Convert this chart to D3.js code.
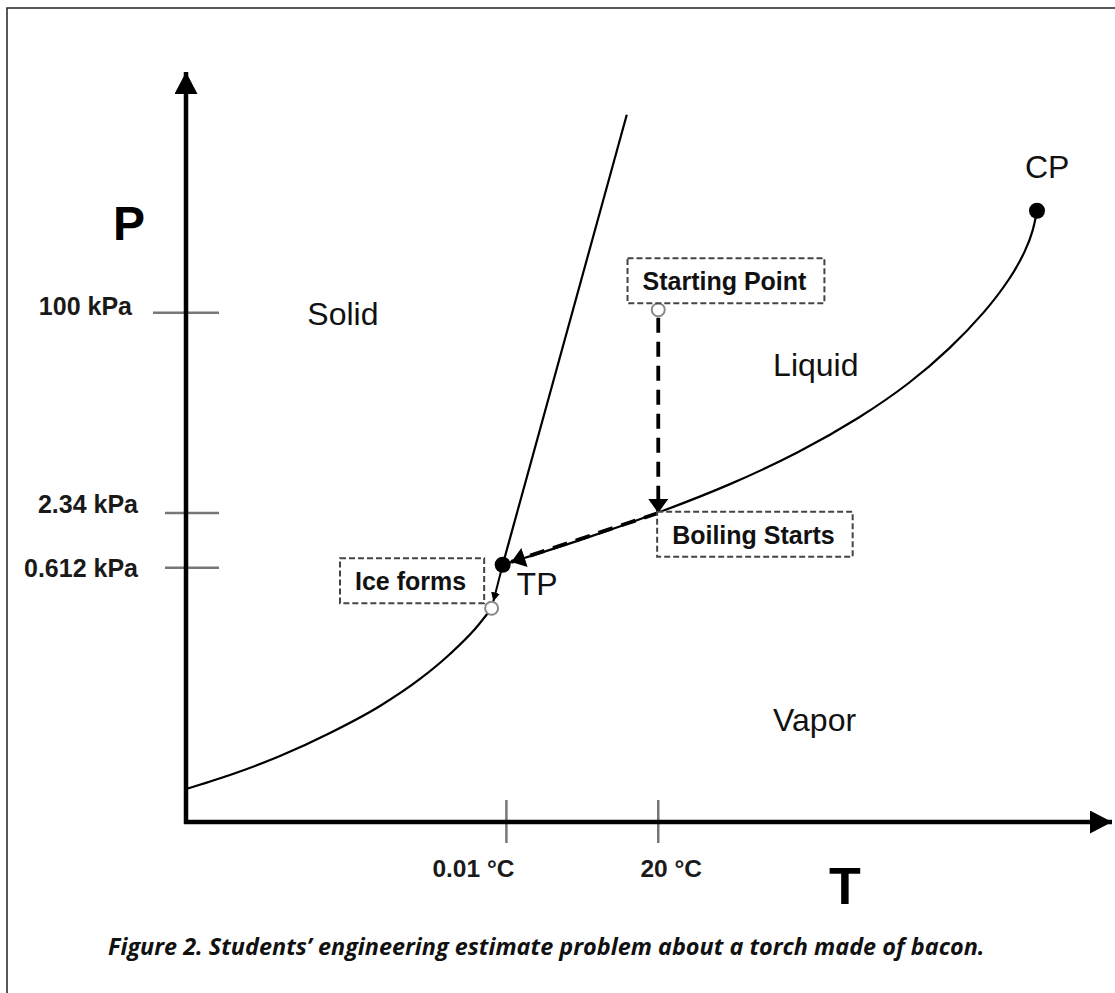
<!DOCTYPE html>
<meta charset="utf-8">
<head>
    <title>Phase diagram</title>
    <script src="https://cdn.jsdelivr.net/npm/d3@7"></script>
    <style>
        body { margin: 0; background: #fff; }
    </style>
</head>
<body>
    <div id="chart"></div>
    <script>
        // schematic units, 0..100 on both axes
        const sublimation = [[0, 4.4], [4.75, 6.27], [10.15, 8.8], [15.55, 11.87], [20.95, 15.47], [25.27, 19.07], [28.51, 22.4], [31.21, 25.73], [33.0, 28.5]];
        const vaporization = [[34.2, 34.3], [42.5, 37.5], [51.0, 41.2], [58.7, 44.9], [66.3, 49.3], [72.8, 53.9], [78.2, 58.5], [82.5, 63.1], [86.3, 68.0], [89.0, 72.4], [90.7, 76.2], [91.5, 78.9], [91.9, 81.5]];
        const fusion = [[34.2, 34.3], [47.6, 94.3]];

        const yTickValues = [67.9, 41.2, 33.9];
        const yTickLabels = ["100 kPa", "2.34 kPa", "0.612 kPa"];
        const xTickValues = [34.6, 51.0];
        const xTickLabels = ["0.01 °C", "20 °C"];

        const triplePoint = [34.2, 34.3];
        const criticalPoint = [91.9, 81.5];
        const startPoint = [51.0, 68.3];
        const boilPoint = [51.0, 41.2];
        const icePoint = [33.0, 28.5];

        const regionNames = ["Solid", "Liquid", "Vapor", "TP", "CP"];
        const regionAt = [[13.1, 66.3], [63.4, 59.5], [63.4, 12.1], [35.7, 30.3], [90.6, 85.9]];
        const boxNames = ["Starting Point", "Boiling Starts", "Ice forms"];
        const boxAt = [[49.3, 70.9], [52.5, 37.1], [18.25, 30.9]];

        const width = 1115, height = 993;
        const svg = d3.select("#chart").append("svg")
            .attr("width", width).attr("height", height)
            .style("font-family", "'Liberation Sans', Arial, sans-serif");

        const x = d3.scaleLinear().domain([0, 100]).range([186, 1112]);
        const y = d3.scaleLinear().domain([0, 100]).range([822, 72]);

        // frame
        svg.append("path").attr("d", "M7,993 V8 H1115")
            .attr("fill", "none").attr("stroke", "#222").attr("stroke-width", 1.5);

        const defs = svg.append("defs");
        function marker(id, len, half) {
            defs.append("marker").attr("id", id)
                .attr("viewBox", `0 ${-half} ${len} ${half * 2}`)
                .attr("refX", len).attr("refY", 0)
                .attr("markerWidth", len).attr("markerHeight", half * 2)
                .attr("markerUnits", "userSpaceOnUse")
                .attr("orient", "auto")
                .append("path").attr("d", `M0,${-half}L${len},0L0,${half}Z`).attr("fill", "#000");
        }
        marker("axisHead", 22, 11.5);
        marker("dashHead", 14, 10);
        marker("smallHead", 9, 4.5);

        // ticks
        svg.append("g").selectAll("line").data(yTickValues).join("line")
            .attr("x1", (d, i) => i == 0 ? 153 : 165).attr("x2", 219)
            .attr("y1", d => y(d)).attr("y2", d => y(d))
            .attr("stroke", "#777").attr("stroke-width", 2.5);
        svg.append("g").selectAll("line").data(xTickValues).join("line")
            .attr("x1", d => x(d)).attr("x2", d => x(d))
            .attr("y1", 800).attr("y2", 843)
            .attr("stroke", "#777").attr("stroke-width", 2.5);

        const yLabelDx = [132, 138, 138], yLabelDy = [2, 0, 9];
        svg.append("g").selectAll("text").data(yTickLabels).join("text")
            .attr("x", (d, i) => yLabelDx[i]).attr("y", (d, i) => y(yTickValues[i]) + yLabelDy[i])
            .attr("text-anchor", "end").attr("font-weight", "bold").attr("font-size", 25)
            .attr("fill", "#1a1a1a").text(d => d);
        const xLabelDx = [-33, 13];
        svg.append("g").selectAll("text").data(xTickLabels).join("text")
            .attr("x", (d, i) => x(xTickValues[i]) + xLabelDx[i]).attr("y", 877)
            .attr("text-anchor", "middle").attr("font-weight", "bold").attr("font-size", 24.5)
            .attr("fill", "#1a1a1a").text(d => d);

        // axes
        svg.append("line").attr("x1", x(0)).attr("y1", y(0) + 2).attr("x2", x(0)).attr("y2", y(100))
            .attr("stroke", "#000").attr("stroke-width", 4.5).attr("marker-end", "url(#axisHead)");
        svg.append("line").attr("x1", x(0) - 2).attr("y1", y(0)).attr("x2", x(100)).attr("y2", y(0))
            .attr("stroke", "#000").attr("stroke-width", 4.5).attr("marker-end", "url(#axisHead)");

        svg.append("text").attr("x", 113).attr("y", 240).attr("font-weight", "bold")
            .attr("font-size", 48).text("P");
        svg.append("text").attr("x", 829).attr("y", 904).attr("font-weight", "bold")
            .attr("font-size", 52).text("T");

        // phase boundaries
        const line = d3.line().x(d => x(d[0])).y(d => y(d[1])).curve(d3.curveMonotoneX);
        const smooth = d3.line().x(d => x(d[0])).y(d => y(d[1])).curve(d3.curveBasis);
        [[sublimation, line], [vaporization, smooth], [fusion, line]].forEach(([pts, gen]) => {
            svg.append("path").attr("d", gen(pts)).attr("fill", "none")
                .attr("stroke", "#000").attr("stroke-width", 2.2);
        });

        // process arrows
        function tipBefore(from, to, gap) {
            const x0 = x(from[0]), y0 = y(from[1]), x1 = x(to[0]), y1 = y(to[1]);
            const len = Math.hypot(x1 - x0, y1 - y0);
            return [x1 - (x1 - x0) / len * gap, y1 - (y1 - y0) / len * gap];
        }
        svg.append("line").attr("x1", x(startPoint[0])).attr("y1", y(startPoint[1]) + 8)
            .attr("x2", x(boilPoint[0])).attr("y2", y(boilPoint[1]))
            .attr("stroke", "#000").attr("stroke-width", 3.8).attr("stroke-dasharray", "15,9")
            .attr("marker-end", "url(#dashHead)");
        const t2 = tipBefore(boilPoint, triplePoint, 9);
        svg.append("line").attr("x1", x(boilPoint[0])).attr("y1", y(boilPoint[1]))
            .attr("x2", t2[0]).attr("y2", t2[1])
            .attr("stroke", "#000").attr("stroke-width", 3.8).attr("stroke-dasharray", "15,9")
            .attr("marker-end", "url(#dashHead)");
        const t3 = tipBefore(triplePoint, icePoint, 7);
        svg.append("line").attr("x1", x(triplePoint[0])).attr("y1", y(triplePoint[1]))
            .attr("x2", t3[0]).attr("y2", t3[1])
            .attr("stroke", "#000").attr("stroke-width", 2)
            .attr("marker-end", "url(#smallHead)");

        // points
        svg.append("g").selectAll("circle").data([triplePoint, criticalPoint]).join("circle")
            .attr("cx", d => x(d[0])).attr("cy", d => y(d[1])).attr("r", 8).attr("fill", "#000");
        svg.append("g").selectAll("circle").data([startPoint, icePoint]).join("circle")
            .attr("cx", d => x(d[0])).attr("cy", d => y(d[1])).attr("r", 6.5)
            .attr("fill", "#fff").attr("stroke", "#888").attr("stroke-width", 2);

        // region labels
        svg.append("g").selectAll("text").data(regionNames).join("text")
            .attr("x", (d, i) => x(regionAt[i][0])).attr("y", (d, i) => y(regionAt[i][1]))
            .attr("font-size", 32).attr("fill", "#111").text(d => d);

        // dashed boxes
        boxNames.forEach((name, i) => {
            const g = svg.append("g");
            const t = g.append("text").attr("x", x(boxAt[i][0])).attr("y", y(boxAt[i][1]))
                .attr("font-weight", "bold").attr("font-size", 25).attr("fill", "#111").text(name);
            const w = t.node().getComputedTextLength();
            g.insert("rect", "text")
                .attr("x", x(boxAt[i][0]) - 15).attr("y", y(boxAt[i][1]) - 32)
                .attr("width", w + 33).attr("height", 45)
                .attr("fill", "#fff").attr("stroke", "#444").attr("stroke-width", 2)
                .attr("stroke-dasharray", "6,3");
        });

        // caption
        const cap = svg.append("text").attr("x", 108).attr("y", 955)
            .style("font-family", "'Open Sans', sans-serif").attr("font-weight", "bold").attr("font-style", "italic")
            .attr("font-size", 20).attr("fill", "#111")
            .text("Figure 2. Students’ engineering estimate problem about a torch made of bacon.");
        const cw = cap.node().getComputedTextLength();
        cap.attr("font-size", 20 * 877 / cw);
    </script>
</body>
